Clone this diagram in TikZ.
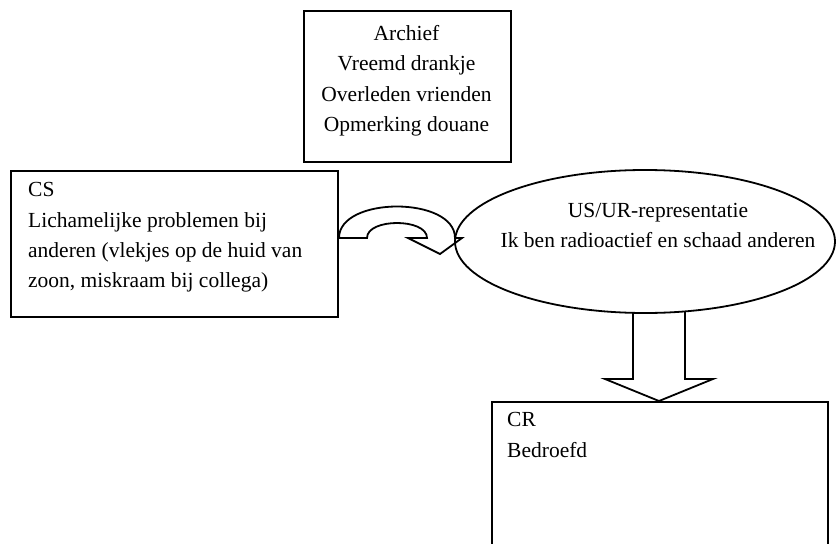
\documentclass[tikz,border=0pt]{standalone}
\usepackage{fontspec}
\setmainfont{Liberation Serif}
\usetikzlibrary{shapes.geometric,calc}
\begin{document}
\begin{tikzpicture}[x=1pt,y=1pt,
  boxline/.style={draw=black,line width=2.2pt},
  thinline/.style={draw=black,line width=1.8pt},
  txt/.style={font=\fontsize{21.5}{30.2}\selectfont,inner sep=0pt}]
\clip (0,0) rectangle (837,-543);
% Archief box
\node[boxline,rectangle,anchor=north west,minimum width=207pt,minimum height=151pt,inner sep=0pt] (archief) at (303,-10) {};
\node[txt,align=center,anchor=north] (archieftxt) at (406.5,-25.3) {Archief\\Vreemd drankje\\Overleden vrienden\\Opmerking douane};
% CS box
\node[boxline,rectangle,anchor=north west,minimum width=327pt,minimum height=146pt,inner sep=0pt] (cs) at (10,-170) {};
\node[txt,align=left,anchor=north west] (cstxt) at (28,-182.5) {CS\\Lichamelijke problemen bij\\anderen (vlekjes op de huid van\\zoon, miskraam bij collega)};
% Ellipse
\node[thinline,ellipse,minimum width=380pt,minimum height=143pt,inner sep=0pt] (us) at (645,-241.5) {};
\node[txt,align=center,anchor=north] (ustxt) at (658,-203) {US/UR-representatie\\Ik ben radioactief en schaad anderen};
% CR box
\node[boxline,rectangle,anchor=north west,minimum width=336pt,minimum height=200pt,inner sep=0pt] (cr) at (491,-401) {};
\node[txt,align=left,anchor=north west] (crtxt) at (507,-412.5) {CR\\Bedroefd};
% curved arrow from CS to ellipse
\draw[thinline,line join=miter]
  (339,-238) .. controls (339,-196) and (455,-196) .. (455,-238)
  -- (462,-238) -- (440,-254) -- (408,-238) -- (427,-238)
  .. controls (427,-218) and (367,-218) .. (367,-238) -- cycle;
% block arrow from ellipse to CR
\coordinate (bl) at (633,-312);
\coordinate (br) at (685,-312);
\coordinate (tip) at (cr.north -| 659,0);
\draw[thinline,line join=miter]
  (bl) -- (633,-379) -- (605,-379) -- (tip) -- (713,-379) -- (685,-379) -- (br);
\end{tikzpicture}
\end{document}
